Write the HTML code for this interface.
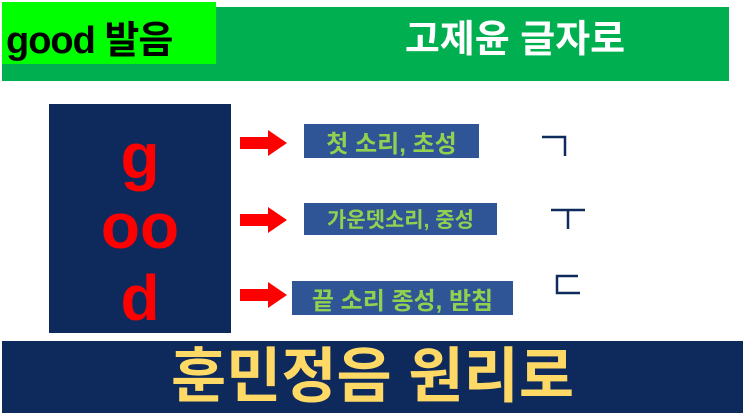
<!DOCTYPE html>
<html><head><meta charset="utf-8"><style>
body{margin:0;width:743px;height:418px;background:#fff;position:relative;overflow:hidden;font-family:"Liberation Sans","Noto Sans CJK KR",sans-serif;font-weight:bold}
div{position:absolute;box-sizing:border-box}
.lbl{background:#2F5597;color:#92D050;font-size:24px;display:flex;align-items:center;justify-content:center;white-space:nowrap}
</style></head><body>
<div style="left:2px;top:7px;width:727px;height:74px;background:#00B050"></div>
<div style="left:2px;top:2px;width:214px;height:62px;background:#00FF00;color:#000;font-size:38px;line-height:78px;padding-left:4px;white-space:nowrap;letter-spacing:-1px">good 발음</div>
<div style="left:360px;top:18px;width:310px;text-align:center;color:#fff;font-size:38px;line-height:44px;white-space:nowrap">고제윤 글자로</div>
<div style="left:49px;top:104px;width:182px;height:229px;background:#0E2A5C;color:#FF0000;font-size:64px;text-align:center">
<div style="left:0;width:182px;top:20px;line-height:64px">g</div>
<div style="left:0;width:182px;top:90px;line-height:64px">oo</div>
<div style="left:0;width:182px;top:162px;line-height:64px">d</div>
</div>
<svg style="position:absolute;left:0;top:0" width="743" height="418">
<g fill="#FF0000">
<polygon points="240,137 268,137 268,130 287,143 268,156 268,149 240,149"/>
<polygon points="240,214 268,214 268,207 287,220 268,233 268,226 240,226"/>
<polygon points="240,289 268,289 268,282 287,295 268,308 268,301 240,301"/>
</g>
<g stroke="#0f2a5c" stroke-width="2.5" fill="none">
<polyline points="542,137 565,137 565,156"/>
<line x1="551" y1="210" x2="585" y2="210"/><line x1="568" y1="210" x2="568" y2="229"/>
<polyline points="578,276 557,276 557,293 580,293"/>
</g>
</svg>
<div class="lbl" style="left:304px;top:124px;width:175px;height:34px">첫 소리, 초성</div>
<div class="lbl" style="left:304px;top:203px;width:193px;height:32px;font-size:21px">가운뎃소리, 중성</div>
<div class="lbl" style="left:292px;top:281px;width:221px;height:34px;font-size:24px">끝 소리 종성, 받침</div>
<div style="left:2px;top:341px;width:741px;height:72px;background:#0E2A5C;color:#FFD966;font-size:60px;text-align:center;line-height:72px;white-space:nowrap">훈민정음 원리로</div>
</body></html>
